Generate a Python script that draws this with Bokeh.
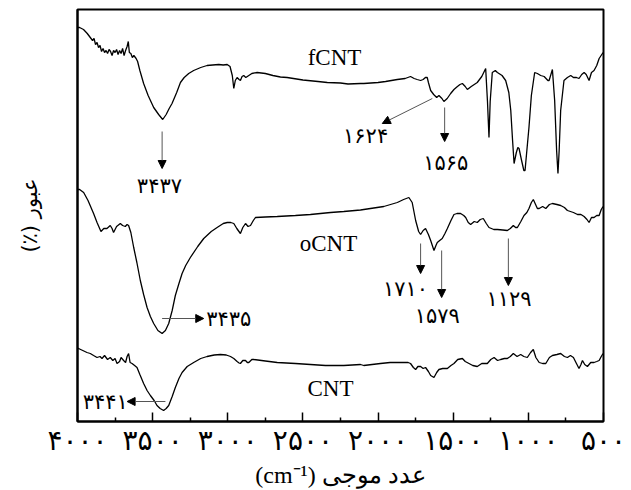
from bokeh.plotting import figure
from bokeh.models import Range1d, FixedTicker, Arrow, NormalHead
from bokeh.core.properties import value
from bokeh.embed import file_html
from bokeh.resources import INLINE

# ---------------- data (wavenumber cm-1, transmittance a.u., curves offset) ----------------
wn_fcnt = [4000, 3986, 3960, 3935, 3915, 3900, 3890, 3880, 3870, 3860, 3850, 3840, 3830, 3820, 3810, 3800,
           3790, 3780, 3770, 3760, 3750, 3740, 3730, 3720, 3710, 3700, 3690, 3680, 3670, 3662, 3655, 3645,
           3635, 3625, 3610, 3600, 3585, 3560, 3530, 3493, 3460, 3433, 3410, 3390, 3371, 3340, 3315, 3290,
           3260, 3227, 3180, 3138, 3100, 3060, 3030, 3004, 2985, 2970, 2960, 2950, 2938, 2925, 2916, 2905,
           2894, 2880, 2860, 2840, 2805, 2750, 2700, 2650, 2605, 2500, 2400, 2338, 2250, 2200, 2117, 2095,
           2000, 1950, 1872, 1820, 1784, 1760, 1740, 1717, 1700, 1685, 1673, 1665, 1650, 1630, 1610, 1595,
           1575, 1562, 1540, 1517, 1495, 1472, 1455, 1439, 1420, 1406, 1380, 1340, 1310, 1284, 1272, 1262,
           1254, 1240, 1220, 1206, 1175, 1151, 1130, 1117, 1105, 1095, 1080, 1070, 1062, 1045, 1030, 1022,
           1010, 996, 980, 958, 940, 918, 895, 870, 862, 850, 840, 825, 812, 803, 795, 785, 763, 740, 718,
           700, 680, 663, 645, 629, 615, 596, 580, 563, 545, 529, 507, 500]
t_fcnt = [394, 394, 392, 388, 384, 381, 383, 377, 379, 374, 376, 370, 373, 369, 371, 368,
          372, 370, 366, 371, 369, 372, 367, 371, 368, 373, 366, 371, 375, 380, 369, 368,
          364, 366, 363, 360, 351, 338, 326, 314, 307, 302, 307, 313, 318, 329, 339, 344,
          348, 351, 354, 356, 356.5, 357, 356.5, 357, 355, 346, 333, 341, 344, 342, 341, 345,
          346, 344, 346, 348, 349, 348, 346, 344.5, 344, 341.5, 340, 339, 338.5, 337.5, 338, 338,
          339, 340, 342, 343, 345, 343, 342, 341, 342, 344, 344, 339, 331, 327, 324, 326,
          323, 320, 323, 328, 332, 335, 337, 338, 335, 332, 335, 339, 345, 353, 320, 284,
          320, 349, 351, 349, 346, 341, 329, 311, 281, 258, 269, 274, 273, 261, 251, 251,
          271, 294, 326, 349, 348, 346, 345, 341, 341, 347, 352, 321, 271, 248, 271, 311, 341, 344, 346,
          344, 344, 343, 347, 349, 347, 341, 349, 351, 356, 363, 368, 369]

wn_ocnt = [4000, 3986, 3959, 3930, 3893, 3870, 3844, 3825, 3804, 3782, 3770, 3760, 3740, 3715, 3700, 3682,
           3670, 3660, 3645, 3626, 3605, 3582, 3560, 3537, 3515, 3493, 3465, 3437, 3415, 3393, 3370, 3349,
           3325, 3304, 3280, 3249, 3200, 3160, 3110, 3071, 3030, 3004, 2980, 2960, 2940, 2916, 2900, 2882,
           2865, 2849, 2830, 2816, 2750, 2671, 2550, 2450, 2350, 2316, 2228, 2117, 2095, 1962, 1872, 1830,
           1795, 1773, 1750, 1730, 1717, 1700, 1684, 1665, 1650, 1628, 1615, 1606, 1590, 1573, 1555, 1539,
           1515, 1495, 1475, 1451, 1430, 1417, 1400, 1384, 1360, 1340, 1320, 1300, 1280, 1262, 1230, 1206,
           1170, 1140, 1120, 1100, 1085, 1073, 1050, 1029, 1010, 996, 980, 967, 955, 940, 928, 905, 884,
           860, 840, 810, 785, 760, 740, 700, 673, 650, 629, 610, 596, 580, 563, 545, 529, 515, 507, 500]
t_ocnt = [232, 232, 229, 221, 208, 199, 190, 193, 193, 196, 193, 189, 195, 198, 196, 195,
          197, 196, 189, 174, 159, 141, 127, 114, 105, 98, 91, 88, 91, 98, 111, 126,
          138, 148, 156, 164, 175, 183, 190, 194, 198, 199, 199, 198, 193, 188, 194, 198,
          195, 196, 201, 204, 204.5, 205, 206, 207, 208.5, 209, 210, 211.5, 212, 215, 219, 222,
          224, 219, 201, 190, 187, 191, 193, 187, 181, 171, 176, 179, 181, 183, 188, 193,
          201, 207, 208, 208, 206, 204, 199, 197, 200, 199, 202, 203, 198, 194, 192, 192,
          191.5, 191, 193, 196, 194, 194, 200, 206, 209, 213, 219, 222, 218, 213, 213, 215, 213,
          217, 218, 217, 216, 214, 211, 209, 207, 207, 205, 202, 199, 204, 204, 206, 206, 212, 214, 215]

wn_cnt = [4000, 3993, 3965, 3937, 3915, 3893, 3870, 3850, 3837, 3820, 3800, 3782, 3765, 3750, 3737, 3720,
          3710, 3693, 3680, 3670, 3660, 3650, 3637, 3620, 3604, 3585, 3560, 3537, 3515, 3490, 3471, 3450,
          3427, 3410, 3393, 3370, 3349, 3325, 3304, 3270, 3227, 3180, 3138, 3090, 3049, 3010, 2982, 2960,
          2938, 2925, 2916, 2900, 2882, 2870, 2860, 2840, 2827, 2750, 2671, 2550, 2450, 2350, 2228, 2117,
          2095, 2040, 1984, 1920, 1850, 1800, 1784, 1765, 1750, 1735, 1717, 1700, 1684, 1665, 1650, 1628,
          1610, 1595, 1570, 1539, 1515, 1495, 1470, 1439, 1420, 1395, 1370, 1340, 1310, 1273, 1250, 1228,
          1205, 1184, 1160, 1140, 1120, 1100, 1075, 1051, 1030, 1007, 985, 967, 950, 928, 905, 884, 860,
          840, 810, 785, 760, 740, 720, 700, 680, 663, 650, 640, 625, 607, 585, 563, 545, 529, 515, 507, 500]
t_cnt = [73, 73, 71, 69, 68, 66, 64, 65, 63, 66, 62, 64, 61, 63, 58, 60,
         64, 61, 59, 65, 68, 59, 58, 56, 54, 47, 38, 31, 26, 21, 16, 13,
         11, 13, 16, 25, 34, 43, 49, 55, 59, 63, 65, 66.5, 67, 66.5, 65, 63,
         60, 58.5, 58, 61, 61, 59, 59, 62, 62, 60.5, 59, 58, 57, 56, 56, 57,
         56, 57, 58, 59, 59, 59, 58, 54, 52, 55, 55, 53, 54, 50, 46, 44,
         49, 52, 53, 53, 56, 58, 62, 63, 60, 58, 56, 55, 58, 58, 62, 64,
         61, 62, 63, 63, 65, 68, 65, 67, 65, 64, 69, 72, 64, 59, 58, 58, 64,
         66, 67, 68, 65, 64, 66, 64, 58, 53, 57, 61, 57, 55, 59, 59, 60, 61, 65, 67, 68]

# sample names
sample_names = ["fCNT", "oCNT", "CNT"]
sample_wn = [2290, 2330, 2317]
sample_t = [364, 178, 33]

# peak annotations: arrow start/end and label position
peak_labels = ["۳۴۳۷", "۱۶۲۴", "۱۵۶۵", "۳۴۳۵", "۱۷۱۰", "۱۵۷۹", "۱۱۲۹", "۳۴۴۱"]
arrow_wn0 = [3437, 1639, 1557, 3437, 1717, 1577, 1133, 3415]
arrow_t0 = [290, 323, 314, 103, 178, 171, 183, 20]
arrow_wn1 = [3437, 1972, 1557, 3160, 1717, 1577, 1133, 3670]
arrow_t1 = [253, 298, 280, 103, 148, 124, 136, 20]
label_wn = [3455, 2083, 1550, 2994, 1817, 1606, 1129, 3815]
label_t = [236, 286, 259, 103, 133, 106, 123, 20]

x_ticks = [4000, 3500, 3000, 2500, 2000, 1500, 1000, 500]
x_tick_labels = ["۴۰۰۰", "۳۵۰۰", "۳۰۰۰", "۲۵۰۰", "۲۰۰۰", "۱۵۰۰", "۱۰۰۰", "۵۰۰"]
x_minor = [3750, 3250, 2750, 2250, 1750, 1250, 750]

# ---------------- figure ----------------
p = figure(width=631, height=490, x_range=Range1d(4000, 500), y_range=Range1d(0, 412),
           output_backend="svg", toolbar_location=None, title=None,
           min_border_left=77, min_border_right=28, min_border_top=9, min_border_bottom=69)
p.grid.visible = False
p.outline_line_color = "black"
p.outline_line_width = 2
p.background_fill_color = "white"

xa = p.xaxis[0]
xa.ticker = FixedTicker(ticks=x_ticks, minor_ticks=x_minor)
xa.major_label_overrides = {k: v for k, v in zip(x_ticks, x_tick_labels)}
xa.major_tick_in = 9
xa.major_tick_out = 0
xa.minor_tick_in = 4
xa.minor_tick_out = 0
xa.major_tick_line_width = 1.5
xa.minor_tick_line_width = 1.5
xa.axis_line_width = 2
xa.major_label_text_font = "DejaVu Sans"
xa.major_label_text_font_size = "28px"
xa.major_label_text_color = "black"
xa.major_label_standoff = 2
xa.axis_label = "(cm⁻¹) عدد موجی"
xa.axis_label_text_font = "Liberation Serif"
xa.axis_label_text_font_size = "24px"
xa.axis_label_text_font_style = "normal"
xa.axis_label_text_color = "black"
xa.axis_label_standoff = 2

ya = p.yaxis[0]
ya.ticker = FixedTicker(ticks=[])
ya.major_tick_line_color = None
ya.minor_tick_line_color = None
ya.major_label_text_font_size = "0px"
ya.axis_line_width = 2
ya.axis_label = "(٪) عبور"
ya.axis_label_text_font = "DejaVu Sans"
ya.axis_label_text_font_size = "21px"
ya.axis_label_text_font_style = "normal"
ya.axis_label_text_color = "black"
ya.axis_label_standoff = 36

for wn, t in [(wn_fcnt, t_fcnt), (wn_ocnt, t_ocnt), (wn_cnt, t_cnt)]:
    p.line(wn, t, line_color="black", line_width=1.3)

p.text(x=sample_wn, y=sample_t, text=sample_names, text_font=value("Liberation Serif"),
       text_font_size="23px", text_align="center", text_baseline="middle", text_color="black")

for i in range(len(peak_labels)):
    p.add_layout(Arrow(x_start=arrow_wn0[i], y_start=arrow_t0[i], x_end=arrow_wn1[i], y_end=arrow_t1[i],
                       line_color="#555555", line_width=1,
                       end=NormalHead(size=8, fill_color="black", line_color="black", line_width=1)))

p.text(x=label_wn, y=label_t, text=peak_labels, text_font=value("DejaVu Sans"),
       text_font_size="21px", text_align="center", text_baseline="middle", text_color="black")

open("out.html", "w").write(file_html(p, INLINE))
